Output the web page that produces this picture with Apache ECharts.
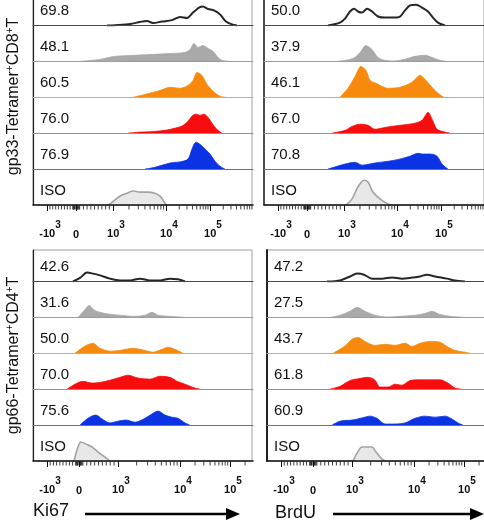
<!DOCTYPE html>
<html>
<head>
<meta charset="utf-8">
<script src="https://cdn.jsdelivr.net/npm/echarts@6/dist/echarts.min.js"></script>
<style>
html, body { margin: 0; padding: 0; background: #fff; }
#chart { width: 484px; height: 523px; }
</style>
</head>
<body>
<div id="chart"></div>
<script>
// x = display channel across a panel (0..220), y = normalised count (1 = row height)
const cd8Ki67 = [
  [[74,0],[82,.01],[97,.04],[107,.1],[114,.125],[120,.07],[129,.11],[139,.15],[147,.24],[154,.21],[160,.36],[166,.5],[170,.53],[175,.46],[181,.42],[187,.31],[193,.11],[199,.03],[204,0]],
  [[47,0],[67,.055],[82,.14],[102,.17],[117,.19],[137,.22],[152,.25],[157,.33],[161,.5],[165,.39],[170,.44],[175,.36],[180,.28],[185,.11],[189,.03],[197,0]],
  [[100,0],[112,.08],[127,.19],[137,.28],[147,.25],[155,.33],[160,.47],[164,.69],[169,.61],[174,.36],[180,.17],[187,.03],[192,0]],
  [[95,0],[107,.03],[117,.04],[132,.08],[142,.14],[149,.2],[155,.33],[159,.48],[163,.53],[167,.5],[171,.53],[175,.44],[179,.28],[184,.1],[189,0]],
  [[112,0],[122,.05],[137,.17],[147,.2],[155,.28],[159,.56],[163,.75],[167,.69],[172,.56],[177,.42],[182,.22],[187,.08],[192,0]],
  [[75,0],[77,.03],[82,.14],[87,.25],[94,.33],[100,.39],[107,.36],[114,.36],[122,.33],[127,.25],[130,.14],[133,0]]
];
const cd8BrdU = [
  [[64,0],[76,.08],[81,.19],[86,.39],[90,.47],[94,.39],[98,.36],[103,.47],[108,.39],[114,.25],[121,.22],[128,.22],[136,.25],[141,.42],[146,.56],[152,.58],[158,.5],[164,.39],[169,.22],[174,.08],[181,0]],
  [[73,0],[89,.08],[96,.25],[102,.44],[108,.33],[114,.11],[121,.03],[129,.01],[141,.06],[151,.14],[161,.17],[168,.11],[176,.03],[183,0]],
  [[76,0],[84,.25],[91,.58],[97,.86],[102,.75],[106,.47],[112,.39],[124,.25],[136,.28],[148,.42],[156,.61],[162,.47],[168,.28],[174,.11],[180,0]],
  [[68,0],[81,.08],[88,.19],[96,.25],[104,.22],[111,.11],[121,.16],[136,.22],[151,.28],[158,.36],[164,.58],[169,.33],[173,.11],[181,.03],[186,0]],
  [[64,0],[81,.14],[91,.19],[98,.11],[111,.17],[131,.25],[146,.36],[154,.44],[158,.42],[166,.42],[173,.36],[178,.14],[184,0]],
  [[82,0],[88,.17],[94,.51],[100,.69],[104,.64],[109,.36],[116,.17],[122,.06],[127,0]]
];
const cd4Ki67 = [
  [[40,0],[47,.1],[54,.25],[60,.22],[67,.17],[77,.08],[87,.03],[97,.03],[107,.08],[117,.03],[127,.03],[137,.08],[145,.06],[152,0]],
  [[45,0],[52,.22],[56,.33],[62,.19],[72,.11],[87,.06],[102,.03],[112,.06],[119,.14],[125,.06],[137,.03],[152,0]],
  [[42,0],[52,.2],[60,.28],[67,.14],[77,.06],[87,.08],[100,.14],[112,.08],[120,.03],[129,.11],[135,.17],[142,.11],[150,0]],
  [[34,0],[42,.14],[50,.22],[59,.17],[67,.19],[77,.25],[87,.33],[95,.39],[105,.31],[117,.28],[127,.36],[137,.33],[144,.22],[152,.14],[162,.03],[167,0]],
  [[47,0],[55,.19],[63,.28],[69,.17],[77,.06],[85,.11],[93,.14],[102,.08],[112,.19],[119,.31],[125,.39],[132,.28],[139,.22],[145,.19],[152,.06],[157,0]],
  [[41,0],[45,.39],[48,.53],[53,.47],[59,.39],[65,.25],[72,.11],[77,0]]
];
const cd4BrdU = [
  [[60,0],[73,.03],[83,.14],[90,.22],[97,.19],[105,.08],[115,.08],[125,.11],[135,.08],[145,.11],[153,.14],[160,.19],[168,.14],[180,.08],[188,.03],[198,0]],
  [[63,0],[73,.06],[83,.17],[90,.28],[98,.17],[108,.06],[121,.01],[133,.03],[148,.06],[158,.11],[165,.17],[173,.08],[183,.03],[198,0]],
  [[66,0],[78,.2],[85,.39],[91,.44],[98,.33],[108,.22],[118,.25],[128,.22],[138,.28],[145,.19],[153,.28],[163,.33],[173,.31],[180,.19],[188,.08],[198,.03],[203,0]],
  [[63,0],[73,.08],[83,.24],[93,.3],[101,.33],[108,.25],[113,.06],[121,.06],[128,.14],[135,.11],[143,.24],[153,.26],[163,.26],[173,.26],[181,.17],[188,.03],[195,0]],
  [[65,0],[73,.11],[85,.14],[95,.2],[103,.25],[110,.19],[118,.03],[128,.03],[138,.06],[148,.19],[158,.25],[168,.22],[178,.25],[185,.17],[191,.06],[196,0]],
  [[86,0],[90,.22],[95,.39],[100,.39],[105,.39],[109,.25],[114,.08],[118,0]]
];

const cd8Ki67Labels = ['69.8', '48.1', '60.5', '76.0', '76.9', 'ISO'];
const cd8BrdULabels = ['50.0', '37.9', '46.1', '67.0', '70.8', 'ISO'];
const cd4Ki67Labels = ['42.6', '31.6', '50.0', '70.0', '75.6', 'ISO'];
const cd4BrdULabels = ['47.2', '27.5', '43.7', '61.8', '60.9', 'ISO'];

// display channel of -10^3, 0, 10^3, 10^4, 10^5
const topTicks = [14, 43, 80, 133, 177];
const bottomTicks = [14, 46, 85, 147, 197];
const tickBase = ['-10', '0', '10', '10', '10'];
const tickExp = ['3', '', '3', '4', '5'];

const FONT = '"Liberation Sans", Arial, sans-serif';
const ROW_H = 35.9;
const ROW_FILL = [null, '#a9a9a9', '#f7890d', '#f70d0d', '#0b33e3', '#e8e8e8'];
const ROW_LINE = ['#262626', '#a9a9a9', '#f7890d', '#f70d0d', '#0b33e3', '#a3a3a3'];
const BASE_LINE = ['#4a4a4a', '#9d9d9d', '#f5a050', '#f26a6a', '#6262f0', '#111'];

const panels = [
  {left: 33, top: 205 - 6 * ROW_H, frameTop: -12, width: 219, curves: cd8Ki67, labels: cd8Ki67Labels, ticks: topTicks,
   title: '{n|gp33-Tetramer}{s|+}{n|CD8}{s|+}{n|T}', axisW: 1.2},
  {left: 264, top: 205 - 6 * ROW_H, frameTop: -12, width: 220, curves: cd8BrdU, labels: cd8BrdULabels, ticks: topTicks, axisW: 1.5},
  {left: 33, top: 461 - 6 * ROW_H, frameTop: 250, width: 219, curves: cd4Ki67, labels: cd4Ki67Labels, ticks: bottomTicks,
   title: '{n|gp66-Tetramer}{s|+}{n|CD4}{s|+}{n|T}', axisW: 1.2},
  {left: 267, top: 461 - 6 * ROW_H, frameTop: 250, width: 220, curves: cd4BrdU, labels: cd4BrdULabels, ticks: bottomTicks, axisW: 2}
];

// biexponential-style minor tick positions between the labelled anchors
function minorTicks(t) {
  const out = [];
  for (let k = 1; k <= 9; k++) out.push(t[1] + (t[0] - t[1]) * k / 10);
  for (const d of [-3, -2.2, -1.5, -0.8, 0.8, 1.5, 2.2, 3]) out.push(t[1] + d);
  for (let k = 1; k <= 9; k++) out.push(t[1] + (t[2] - t[1]) * k / 10);
  for (let k = 2; k <= 9; k++) {
    out.push(t[2] + (t[3] - t[2]) * Math.log10(k));
    out.push(t[3] + (t[4] - t[3]) * Math.log10(k));
    const p = t[4] + (t[4] - t[3]) * Math.log10(k);
    if (p < 219) out.push(p);
  }
  return out;
}

const labelRich = {
  b: {fontFamily: FONT, fontSize: 11, fontWeight: 'bold', color: '#111', verticalAlign: 'bottom', padding: [0, 0, 0, 6]},
  e: {fontFamily: FONT, fontSize: 10, fontWeight: 'bold', color: '#111', verticalAlign: 'bottom', padding: [0, 0, 9, 0]},
  z: {fontFamily: FONT, fontSize: 11, fontWeight: 'bold', color: '#111', verticalAlign: 'bottom', padding: [9, 0, 0, 0]}
};

const grid = [], xAxis = [], yAxis = [], series = [], graphic = [];

panels.forEach((p, pi) => {
  const gi = grid.length;
  grid.push({left: p.left, top: p.frameTop, width: p.width, height: (pi < 2 ? 205 : 461) - p.frameTop,
    show: true, borderColor: '#a0a0a0', borderWidth: 1, backgroundColor: 'transparent', outerBoundsMode: 'none'});
  xAxis.push({gridIndex: gi, type: 'value', min: 0, max: 1, show: false});
  yAxis.push({gridIndex: gi, type: 'value', min: 0, max: 1,
    axisLine: {show: true, lineStyle: {color: '#222', width: p.axisW}},
    axisTick: {show: false}, axisLabel: {show: false}, splitLine: {show: false},
    name: p.title || '', nameLocation: 'middle', nameGap: 11, nameRotate: 90,
    nameTextStyle: {rich: {
      n: {fontFamily: FONT, fontSize: 16, color: '#111', verticalAlign: 'bottom'},
      s: {fontFamily: FONT, fontSize: 10, color: '#111', verticalAlign: 'bottom', padding: [0, 0, 7, 0]}
    }}
  });

  p.curves.forEach((curve, r) => {
    const idx = grid.length;
    const rowTop = p.top + r * ROW_H;
    const last = r === 5;
    grid.push({left: p.left, top: rowTop, width: 220, height: ROW_H, outerBoundsMode: 'none'});
    yAxis.push({gridIndex: idx, type: 'value', min: 0, max: 1, show: false});
    xAxis.push({gridIndex: idx, type: 'value', min: 0, max: 220, position: 'bottom', z: 3,
      axisLine: {show: true, onZero: false, lineStyle: {color: BASE_LINE[r], width: last ? 1.5 : 1}},
      axisTick: last ? {show: true, customValues: p.ticks, length: 6, lineStyle: {color: '#111', width: 1}} : {show: false},
      axisLabel: last ? {
        show: true, customValues: p.ticks, margin: 15,
        formatter: v => {
          const i = p.ticks.indexOf(v);
          return tickExp[i] ? '{b|' + tickBase[i] + '}{e|' + tickExp[i] + '}' : '{z|' + tickBase[i] + '}';
        },
        rich: labelRich
      } : {show: false},
      splitLine: {show: false}
    });
    const ax = xAxis.length - 1, ay = yAxis.length - 1;
    series.push({
      type: 'line', xAxisIndex: ax, yAxisIndex: ay, data: curve, symbol: 'none', smooth: 0.3,
      silent: true, z: 2,
      lineStyle: {color: ROW_LINE[r], width: r === 0 ? 2 : (last ? 1.6 : 0.8)},
      areaStyle: ROW_FILL[r] ? {color: ROW_FILL[r], opacity: 1} : undefined
    });
    if (last) {
      // small log/linear minor ticks hanging under the axis
      series.push({
        type: 'scatter', xAxisIndex: ax, yAxisIndex: ay, silent: true, clip: false, z: 4,
        data: minorTicks(p.ticks).map(v => [v, 0]),
        symbol: 'rect', symbolSize: [1, 4], symbolOffset: [0, '65%'],
        itemStyle: {color: '#111'}
      });
    }
    graphic.push({type: 'text', left: p.left + 7, top: rowTop + ROW_H - 22,
      style: {text: p.labels[r], font: '15px ' + FONT, fill: '#111'}});
  });
});

graphic.push(
  {type: 'text', left: 33, top: 502, style: {text: 'Ki67', font: '18px ' + FONT, fill: '#111'}},
  {type: 'line', shape: {x1: 85, y1: 514, x2: 228, y2: 514}, style: {stroke: '#000', lineWidth: 2.5}},
  {type: 'polygon', shape: {points: [[226, 508], [240, 514], [226, 520]]}, style: {fill: '#000'}},
  {type: 'text', left: 275, top: 504, style: {text: 'BrdU', font: '18px ' + FONT, fill: '#111'}},
  {type: 'line', shape: {x1: 333, y1: 514, x2: 472, y2: 514}, style: {stroke: '#000', lineWidth: 2.5}},
  {type: 'polygon', shape: {points: [[470, 508], [484, 514], [470, 520]]}, style: {fill: '#000'}}
);

const chart = echarts.init(document.getElementById('chart'));
chart.setOption({
  animation: false,
  textStyle: {fontFamily: FONT},
  grid, xAxis, yAxis, series, graphic
});
</script>
</body>
</html>
